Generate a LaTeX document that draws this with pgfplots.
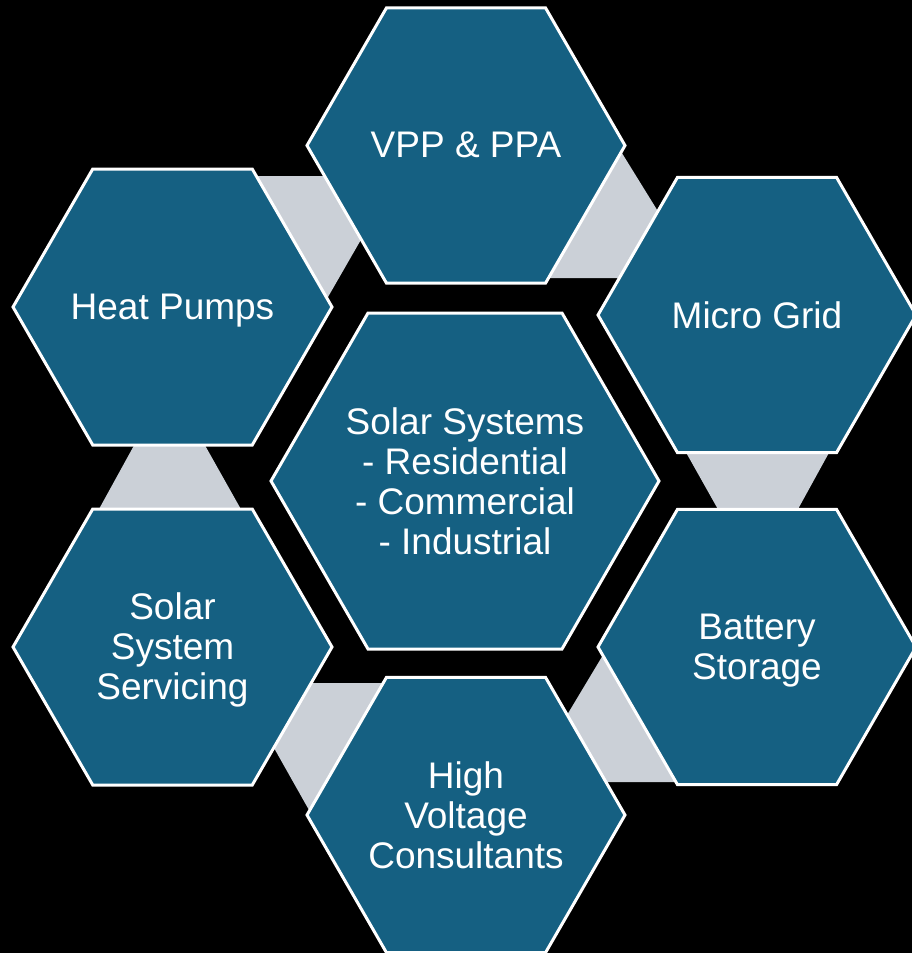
\documentclass[border=0pt]{standalone}
\usepackage{pgfplots}
\pgfplotsset{compat=1.18}
\usepackage{fontspec}
\setmainfont{Liberation Sans}
\definecolor{hexfill}{RGB}{21,96,130}
\definecolor{connector}{RGB}{203,208,215}
\tikzset{lbl/.style={text=white, align=center, font=\fontsize{37}{40}\selectfont, inner sep=0pt}}
\pgfplotsset{hex/.style={fill=hexfill, draw=white, line width=3pt, line join=miter}}
\begin{document}
\begin{tikzpicture}
\begin{axis}[
  width=912pt, height=953pt, scale only axis,
  xmin=0, xmax=912, ymin=0, ymax=953, y dir=reverse,
  axis lines=none, ticks=none, clip=true,
]
% background
\addplot[fill=black, draw=none] coordinates {(0,0) (912,0) (912,953) (0,953)} -- cycle;
% gray connectors
\addplot[fill=connector, draw=none] coordinates {(240,176) (345,176) (370,224) (328,297) (310,290)} -- cycle;
\addplot[fill=connector, draw=none] coordinates {(612,137) (672,234) (640,278) (540,278)} -- cycle;
\addplot[fill=connector, draw=none] coordinates {(679,440) (836,440) (792,520) (724,520)} -- cycle;
\addplot[fill=connector, draw=none] coordinates {(137,440) (202,440) (247,520) (93,520)} -- cycle;
\addplot[fill=connector, draw=none] coordinates {(300,683) (395,683) (318,826) (265,732)} -- cycle;
\addplot[fill=connector, draw=none] coordinates {(612,640) (690,782) (600,782) (555,735)} -- cycle;
% hexagons
% VPP & PPA
\addplot[hex] coordinates {(307,145.5) (386.5,7.8) (545.5,7.8) (625,145.5) (545.5,283.2) (386.5,283.2)} -- cycle;
% Heat Pumps
\addplot[hex] coordinates {(13,307) (92.75,169) (252.25,169) (332,307) (252.25,445) (92.75,445)} -- cycle;
% Micro Grid
\addplot[hex] coordinates {(598,315) (677.5,177.3) (836.5,177.3) (916,315) (836.5,452.7) (677.5,452.7)} -- cycle;
% Center
\addplot[hex] coordinates {(271,481) (368,313) (562,313) (659,481) (562,649) (368,649)} -- cycle;
% Solar System Servicing
\addplot[hex] coordinates {(13,647) (92.75,509) (252.25,509) (332,647) (252.25,785) (92.75,785)} -- cycle;
% Battery Storage
\addplot[hex] coordinates {(598,647) (677.5,509.3) (836.5,509.3) (916,647) (836.5,784.7) (677.5,784.7)} -- cycle;
% High Voltage Consultants
\addplot[hex] coordinates {(307,815) (386.5,677.3) (545.5,677.3) (625,815) (545.5,952.7) (386.5,952.7)} -- cycle;
% labels
\node[lbl] at (axis cs:466,145) {VPP \& PPA};
\node[lbl] at (axis cs:172.5,311) {Heat Pumps};
\node[lbl] at (axis cs:757,315) {Micro Grid};
\node[lbl] at (axis cs:465,481) {Solar Systems\\- Residential\\- Commercial\\- Industrial};
\node[lbl] at (axis cs:172.5,650) {Solar\\System\\Servicing};
\node[lbl] at (axis cs:757,651) {Battery\\Storage};
\node[lbl] at (axis cs:466,815) {High\\Voltage\\Consultants};
\end{axis}
\end{tikzpicture}
\end{document}
